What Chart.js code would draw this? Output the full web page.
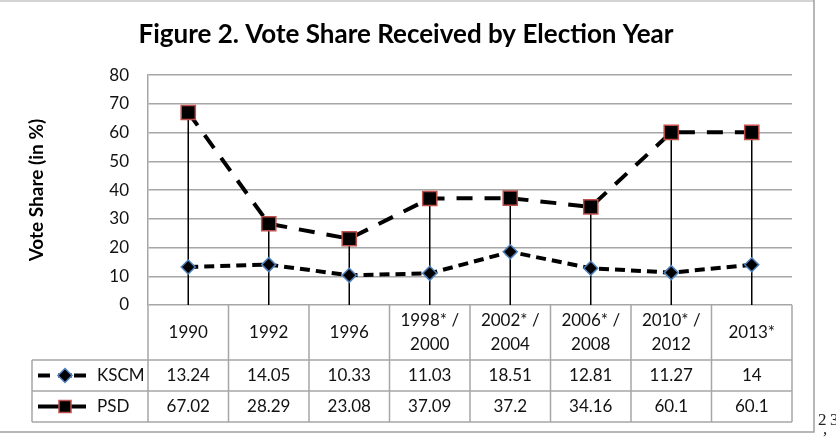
<!DOCTYPE html>
<html>
<head>
<meta charset="utf-8">
<script src="https://cdn.jsdelivr.net/npm/chart.js@4.4.1/dist/chart.umd.min.js"></script>
<style>
html, body { margin: 0; padding: 0; background: #fff; }
</style>
</head>
<body>
<canvas id="chart" width="836" height="442"></canvas>
<script>
// election years (header row of the data table)
var years = [['1990'], ['1992'], ['1996'], ['1998* /', '2000'], ['2002* /', '2004'], ['2006* /', '2008'], ['2010* /', '2012'], ['2013*']];
var kscm = [13.24, 14.05, 10.33, 11.03, 18.51, 12.81, 11.27, 14];
var psd = [67.02, 28.29, 23.08, 37.09, 37.2, 34.16, 60.1, 60.1];
var seriesNames = ['KSCM', 'PSD'];
var yMin = 0, yMax = 80, yStep = 10;

var gridGray = '#a6a6a6';
var fontFam = 'Lato, "Open Sans", sans-serif';

function drawDiamond(ctx, x, y, r) {
    ctx.beginPath();
    ctx.moveTo(x, y - r); ctx.lineTo(x + r, y); ctx.lineTo(x, y + r); ctx.lineTo(x - r, y);
    ctx.closePath();
    ctx.fillStyle = '#000'; ctx.fill();
    ctx.strokeStyle = '#4f81bd'; ctx.lineWidth = 1.5; ctx.stroke();
}

function drawSquare(ctx, x, y, s) {
    ctx.fillStyle = '#000';
    ctx.fillRect(x - s / 2, y - s / 2, s, s);
    ctx.strokeStyle = '#c0504d'; ctx.lineWidth = 1.5;
    ctx.strokeRect(x - s / 2, y - s / 2, s, s);
}

var tablePlugin = {
    id: 'tablePlugin',
    beforeDatasetsDraw: function(chart) {
        // drop lines from PSD points to the axis
        var ctx = chart.ctx;
        var meta = chart.getDatasetMeta(1);
        var bottom = chart.chartArea.bottom;
        ctx.save();
        ctx.strokeStyle = '#000';
        ctx.lineWidth = 1.5;
        meta.data.forEach(function(pt) {
            ctx.beginPath();
            ctx.moveTo(pt.x, pt.y);
            ctx.lineTo(pt.x, bottom);
            ctx.stroke();
        });
        ctx.restore();
    },
    afterDraw: function(chart) {
        var ctx = chart.ctx;
        var area = chart.chartArea;
        var xs = chart.scales.x;
        var n = years.length;
        var w = (area.right - area.left) / n;
        var top = area.bottom;
        var hdr = top + 55, r1 = hdr + 31, r2 = r1 + 31;
        var legLeft = area.left - 116;

        ctx.save();
        ctx.strokeStyle = gridGray;
        ctx.lineWidth = 1.5;
        // vertical cell borders
        for (var i = 0; i <= n; i++) {
            var bx = area.left + i * w;
            ctx.beginPath(); ctx.moveTo(bx, top); ctx.lineTo(bx, r2); ctx.stroke();
        }
        ctx.beginPath(); ctx.moveTo(legLeft, hdr); ctx.lineTo(legLeft, r2); ctx.stroke();
        [hdr, r1, r2].forEach(function(y) {
            ctx.beginPath(); ctx.moveTo(legLeft, y); ctx.lineTo(area.right, y); ctx.stroke();
        });

        ctx.fillStyle = '#111';
        ctx.font = '17px ' + fontFam;
        ctx.textAlign = 'center';
        ctx.textBaseline = 'middle';
        var hMid = (top + hdr) / 2;
        years.forEach(function(lab, i) {
            var cx = xs.getPixelForValue(i);
            if (lab.length === 1) {
                ctx.fillText(lab[0], cx, hMid);
            } else {
                ctx.fillText(lab[0], cx, hMid - 12);
                ctx.fillText(lab[1], cx, hMid + 12);
            }
            ctx.fillText(String(kscm[i]), cx, (hdr + r1) / 2);
            ctx.fillText(String(psd[i]), cx, (r1 + r2) / 2);
        });

        // legend keys
        ctx.textAlign = 'left';
        ctx.fillText(seriesNames[0], legLeft + 65, (hdr + r1) / 2);
        ctx.fillText(seriesNames[1], legLeft + 65, (r1 + r2) / 2);
        var ky = (hdr + r1) / 2, py = (r1 + r2) / 2;
        ctx.strokeStyle = '#000';
        ctx.lineWidth = 4;
        [[6, 18], [26, 40], [42, 54]].forEach(function(s) {
            ctx.beginPath(); ctx.moveTo(legLeft + s[0], ky); ctx.lineTo(legLeft + s[1], ky); ctx.stroke();
        });
        drawDiamond(ctx, legLeft + 33, ky, 7);
        ctx.strokeStyle = '#000';
        ctx.lineWidth = 4;
        ctx.beginPath(); ctx.moveTo(legLeft + 6, py); ctx.lineTo(legLeft + 54, py); ctx.stroke();
        drawSquare(ctx, legLeft + 33, py, 12);

        // outer frame
        ctx.lineWidth = 2;
        ctx.strokeStyle = '#d4d4d4';
        ctx.beginPath(); ctx.moveTo(0, 1); ctx.lineTo(814, 1); ctx.stroke();
        ctx.lineWidth = 1.5;
        ctx.strokeStyle = '#a0a0a0';
        ctx.beginPath(); ctx.moveTo(814, 0); ctx.lineTo(814, 432); ctx.lineTo(0, 432); ctx.stroke();

        // footnote marks
        ctx.fillStyle = '#222';
        ctx.font = '17px "Liberation Serif", serif';
        ctx.textBaseline = 'alphabetic';
        ctx.fillText('2', 818, 425);
        ctx.fillText('3', 830, 425);
        ctx.fillText(',', 823, 434);
        ctx.restore();
    }
};

var ctx = document.getElementById('chart');
var chart = new Chart(ctx, {
    type: 'line',
    data: {
        labels: years,
        datasets: [
            {
                label: seriesNames[0],
                data: kscm,
                borderColor: '#000',
                borderWidth: 4,
                borderDash: [10, 6],
                tension: 0,
                fill: false,
                pointStyle: 'rectRot',
                pointRadius: 7,
                pointHoverRadius: 7,
                pointBackgroundColor: '#000',
                pointBorderColor: '#4f81bd',
                pointBorderWidth: 1.5
            },
            {
                label: seriesNames[1],
                data: psd,
                borderColor: '#000',
                borderWidth: 4,
                borderDash: [16, 12],
                tension: 0,
                fill: false,
                pointStyle: 'rect',
                pointRadius: 10,
                pointHoverRadius: 10,
                pointBackgroundColor: '#000',
                pointBorderColor: '#c0504d',
                pointBorderWidth: 1.5
            }
        ]
    },
    options: {
        responsive: false,
        animation: false,
        layout: { padding: { left: 20, right: 44, top: 0, bottom: 0 } },
        plugins: {
            legend: { display: false },
            tooltip: { enabled: false },
            title: {
                display: true,
                text: 'Figure 2. Vote Share Received by Election Year',
                color: '#000',
                font: { family: fontFam, size: 26, weight: 'bold' },
                padding: { top: 19, bottom: 25 }
            }
        },
        scales: {
            x: {
                offset: true,
                ticks: { display: false },
                grid: { display: false },
                border: { display: false },
                afterFit: function(s) { s.height = 137; }
            },
            y: {
                min: yMin,
                max: yMax,
                ticks: {
                    stepSize: yStep,
                    padding: 19,
                    color: '#111',
                    font: { family: fontFam, size: 17 }
                },
                grid: { color: gridGray, lineWidth: 1.5, drawTicks: false },
                border: { color: gridGray, width: 1.5 },
                title: {
                    display: true,
                    text: 'Vote Share (in %)',
                    color: '#000',
                    font: { family: fontFam, size: 19, weight: 'bold' },
                    padding: { top: 5, bottom: 4 }
                },
                afterFit: function(s) { s.width = 128; }
            }
        }
    },
    plugins: [tablePlugin]
});
</script>
</body>
</html>
